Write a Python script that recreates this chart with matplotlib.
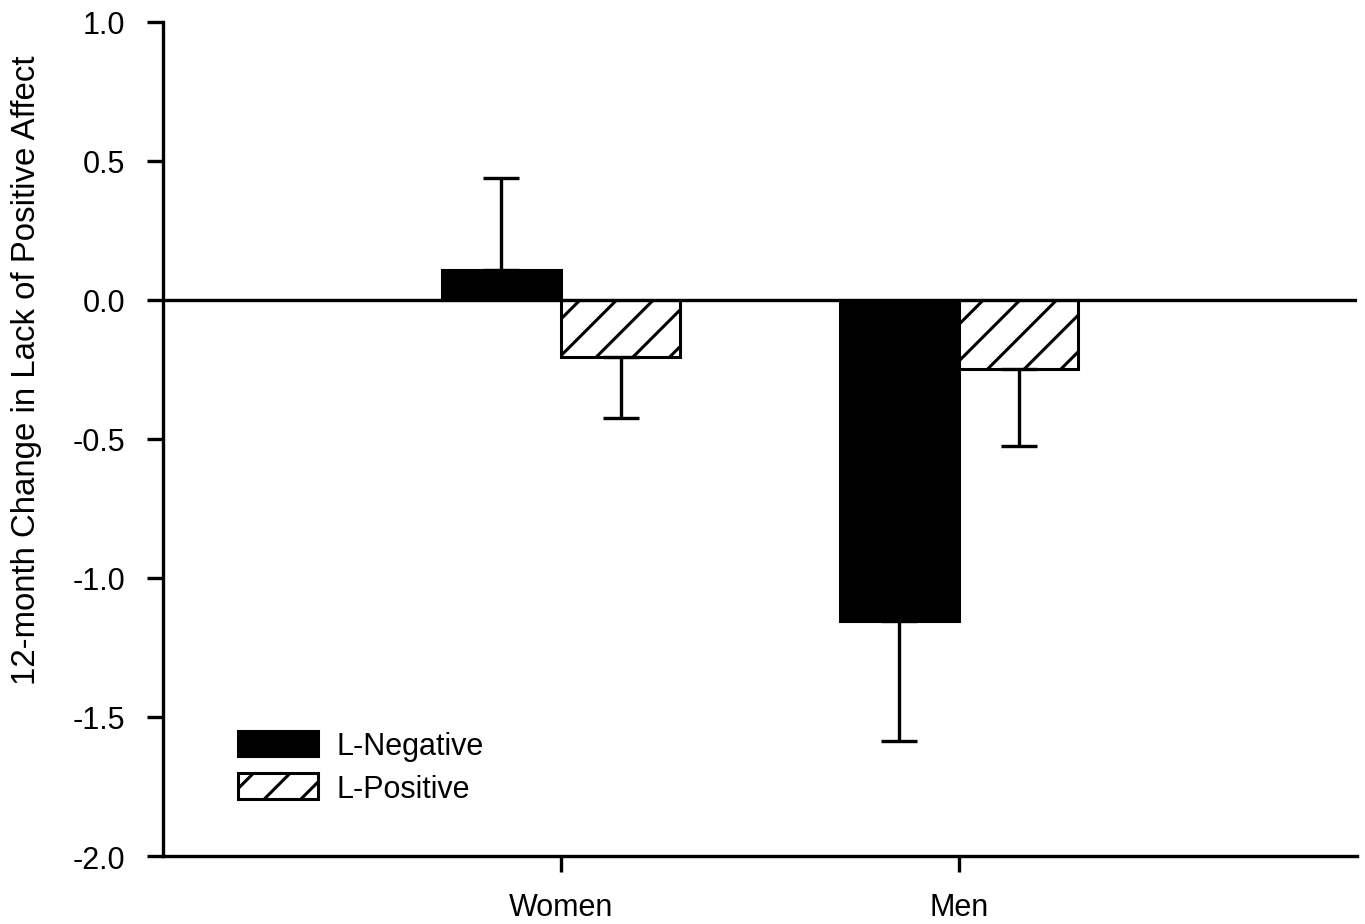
import numpy as np
import matplotlib.pyplot as plt

# 字体：Arial 风格
plt.rcParams['font.family'] = ['Liberation Sans', 'DejaVu Sans']
plt.rcParams['hatch.linewidth'] = 1.0
plt.rcParams['hatch.color'] = 'black'

# 数据
groups = ['Women', 'Men']
neg_mean = [0.108, -1.156]          # L-Negative
neg_err_low = [0.0, 0.431]
neg_err_high = [0.329, 0.0]
pos_mean = [-0.204, -0.249]         # L-Positive
pos_err_low = [0.221, 0.278]
pos_err_high = [0.0, 0.0]
yticks = [-2.0, -1.5, -1.0, -0.5, 0.0, 0.5, 1.0]

dpi = 220
fig = plt.figure(figsize=(1365 / dpi, 925 / dpi), dpi=dpi)
ax = fig.add_axes([0.1194, 0.0735, 0.8747, 0.902])

x = np.arange(1, len(groups) + 1)
w = 0.30

ax.bar(x - w / 2, neg_mean, width=w, color='black', edgecolor='black',
       linewidth=1.0, label='L-Negative', zorder=2)
ax.bar(x + w / 2, pos_mean, width=w, color='white', edgecolor='black',
       linewidth=1.0, hatch='//', label='L-Positive', zorder=2)

ax.errorbar(x - w / 2, neg_mean, yerr=[neg_err_low, neg_err_high], fmt='none',
            ecolor='black', elinewidth=1.1, capsize=6, capthick=1.1, zorder=3)
ax.errorbar(x + w / 2, pos_mean, yerr=[pos_err_low, pos_err_high], fmt='none',
            ecolor='black', elinewidth=1.1, capsize=6, capthick=1.1, zorder=3)

ax.axhline(0, color='black', linewidth=1.1, zorder=4)

ax.set_xlim(0, 3)
ax.set_ylim(-2.0, 1.0)
ax.set_xticks(x)
ax.set_xticklabels(groups)
ax.set_yticks(yticks)
ax.set_yticklabels([f'{v:.1f}' for v in yticks])

for s in ['top', 'right']:
    ax.spines[s].set_visible(False)
for s in ['left', 'bottom']:
    ax.spines[s].set_linewidth(1.1)

ax.tick_params(axis='both', direction='out', length=5.3, width=1.1,
               labelsize=10, colors='black')
ax.tick_params(axis='y', pad=7)
ax.tick_params(axis='x', pad=6.5)

ax.set_ylabel('12-month Change in Lack of Positive Affect', fontsize=10.8)
ax.yaxis.set_label_coords(-0.101, 0.583)

ax.legend(loc='upper left', bbox_to_anchor=(0.0632, 0.15), frameon=False,
          fontsize=10, handlelength=2.6, handleheight=0.9,
          handletextpad=0.6, labelspacing=0.4, borderpad=0, borderaxespad=0)

plt.savefig('out.png', dpi=dpi)
plt.close()
